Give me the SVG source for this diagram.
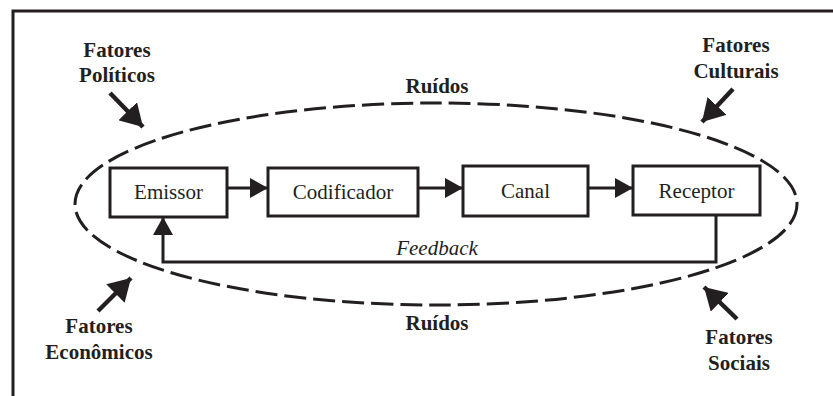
<svg xmlns="http://www.w3.org/2000/svg" width="833" height="396" viewBox="0 0 833 396">
<style>
.frame{fill:none;stroke:#231f20;stroke-width:3}
.box{fill:#fff;stroke:#231f20;stroke-width:3}
text{font-family:'Liberation Serif','DejaVu Serif',serif;font-size:21px;fill:#231f20;text-anchor:middle}
.b{font-weight:bold}
.it{font-style:italic}
.ell{fill:none;stroke:#231f20;stroke-width:3;stroke-dasharray:22 7}
.con{fill:none;stroke:#231f20;stroke-width:3}
.fat{fill:none;stroke:#231f20;stroke-width:4.5}
</style>
<defs>
<marker id="ah" viewBox="0 0 18 20" refX="18" refY="10" markerUnits="userSpaceOnUse" markerWidth="18" markerHeight="20" orient="auto">
<path d="M0,0 L18,10 L0,20 Z" fill="#231f20"/>
</marker>
<marker id="bh" viewBox="0 0 22 26" refX="22" refY="13" markerUnits="userSpaceOnUse" markerWidth="22" markerHeight="26" orient="auto">
<path d="M0,0 L22,13 L0,26 Z" fill="#231f20"/>
</marker>
</defs>
<rect width="833" height="396" fill="#fff"/>
<path class="frame" d="M13,396 L13,11 L833,11"/>
<ellipse class="ell" cx="436" cy="204" rx="361" ry="101"/>
<g id="connectors">
<line class="con" x1="227" y1="188" x2="268" y2="188" marker-end="url(#ah)"/>
<line class="con" x1="418" y1="188" x2="463" y2="188" marker-end="url(#ah)"/>
<line class="con" x1="588" y1="188" x2="633" y2="188" marker-end="url(#ah)"/>
<path class="con" d="M716,215 L716,262 L163,262 L163,217" marker-end="url(#ah)"/>
<line class="fat" x1="110" y1="93" x2="143" y2="127" marker-end="url(#bh)"/>
<line class="fat" x1="733" y1="89" x2="702" y2="122" marker-end="url(#bh)"/>
<line class="fat" x1="98" y1="311" x2="131" y2="278" marker-end="url(#bh)"/>
<line class="fat" x1="737" y1="319" x2="704" y2="287" marker-end="url(#bh)"/>
</g>
<g id="emissor"><rect class="box" x="110" y="168" width="117" height="49"/><text font-family="Liberation Serif, serif" x="168.5" y="199">Emissor</text></g>
<g id="codificador"><rect class="box" x="268" y="168" width="150" height="48"/><text font-family="Liberation Serif, serif" x="343" y="199">Codificador</text></g>
<g id="canal"><rect class="box" x="463" y="166" width="125" height="50"/><text font-family="Liberation Serif, serif" x="525.5" y="198">Canal</text></g>
<g id="receptor"><rect class="box" x="633" y="166" width="127" height="49"/><text font-family="Liberation Serif, serif" x="696.5" y="198">Receptor</text></g>
<g id="feedback-label"><text class="it" x="437" y="255">Feedback</text></g>
<g id="ruidos-top"><text class="b" x="437" y="93">Ruídos</text></g>
<g id="ruidos-bottom"><text class="b" x="437" y="330">Ruídos</text></g>
<g id="politicos"><text class="b" x="117" y="57">Fatores</text><text class="b" x="117" y="82">Políticos</text></g>
<g id="culturais"><text class="b" x="736" y="52">Fatores</text><text class="b" x="736" y="78">Culturais</text></g>
<g id="economicos"><text class="b" x="99" y="333">Fatores</text><text class="b" x="99" y="359">Econômicos</text></g>
<g id="sociais"><text class="b" x="739" y="344">Fatores</text><text class="b" x="739" y="370">Sociais</text></g>
</svg>
